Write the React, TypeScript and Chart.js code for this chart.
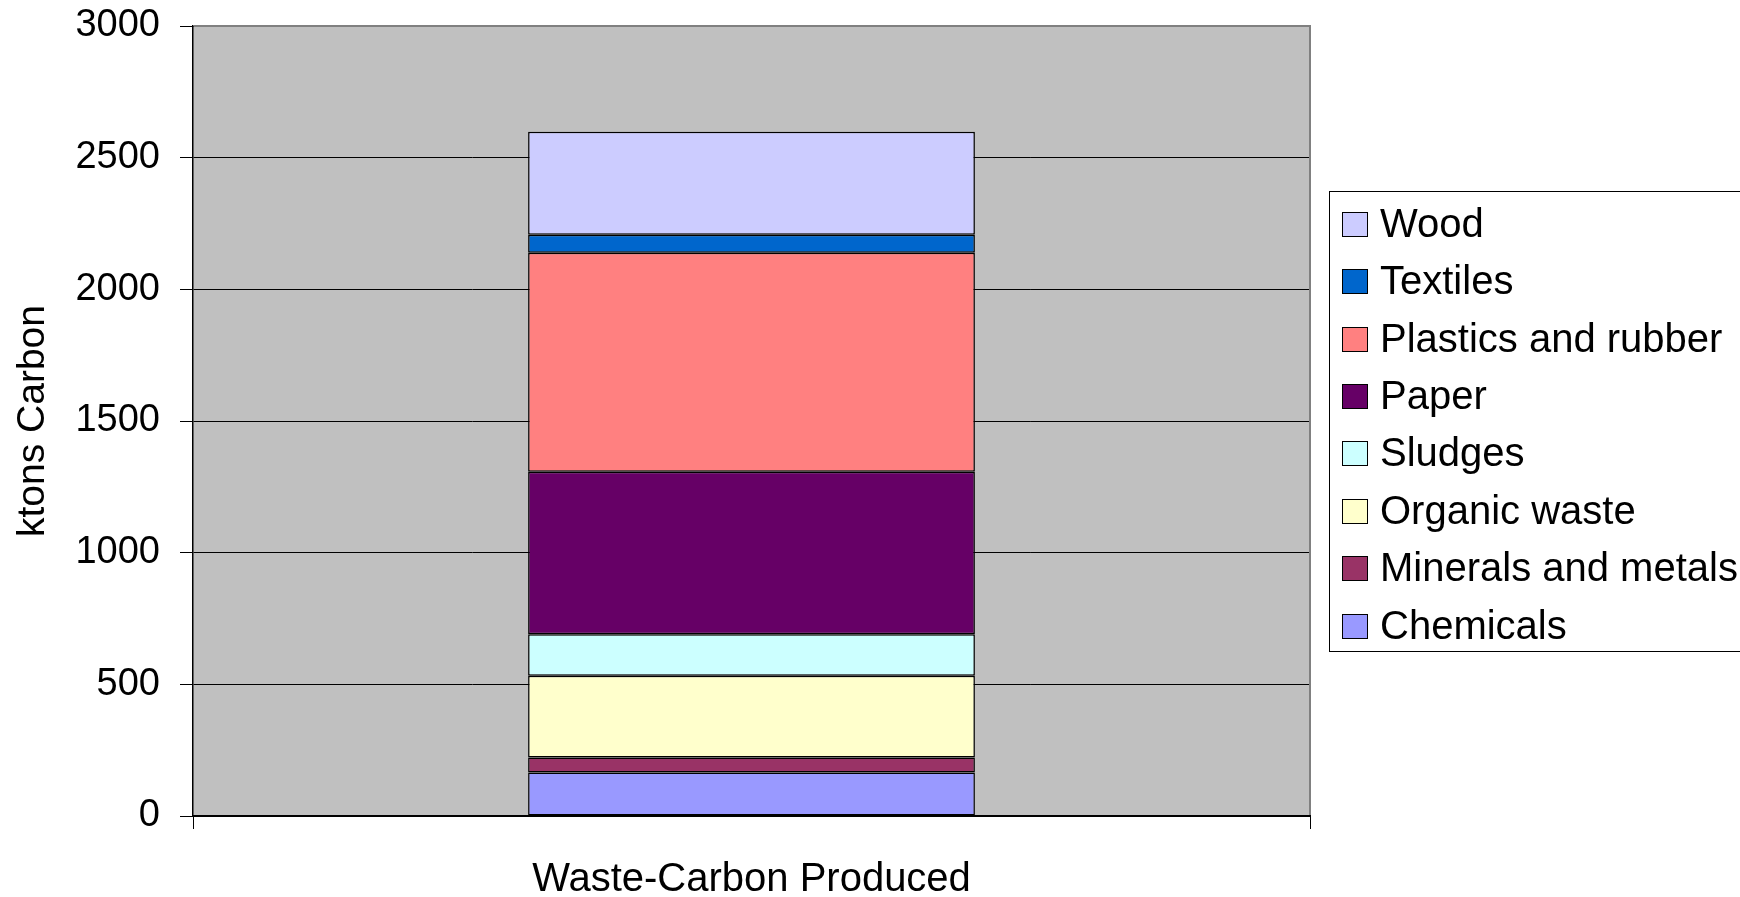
import React, { useEffect, useRef } from "react";
import { Chart, registerables } from "chart.js";

Chart.register(...registerables);

const categories = ["Waste-Carbon Produced"];
const seriesNames = [
  "Chemicals",
  "Minerals and metals",
  "Organic waste",
  "Sludges",
  "Paper",
  "Plastics and rubber",
  "Textiles",
  "Wood",
];
const chemicals = [165];
const mineralsMetals = [57];
const organicWaste = [311];
const sludges = [157];
const paper = [617];
const plasticsRubber = [832];
const textiles = [68];
const wood = [391];
const seriesColors = [
  "#9999FF",
  "#993366",
  "#FFFFCC",
  "#CCFFFF",
  "#660066",
  "#FF8080",
  "#0066CC",
  "#CCCCFF",
];
const yTicks = [0, 500, 1000, 1500, 2000, 2500, 3000];
const yTitle = "ktons Carbon";

const FONT = "'Liberation Sans', Arial, Helvetica, sans-serif";

const plotBgPlugin = {
  id: "plotBg",
  beforeDraw(chart: any) {
    const { ctx, chartArea } = chart;
    ctx.save();
    ctx.fillStyle = "#C0C0C0";
    ctx.fillRect(chartArea.left, chartArea.top, chartArea.right - chartArea.left, chartArea.bottom - chartArea.top);
    ctx.restore();
  },
  beforeDatasetsDraw(chart: any) {
    const { ctx, chartArea } = chart;
    ctx.save();
    ctx.strokeStyle = "#808080";
    ctx.lineWidth = 2;
    ctx.beginPath();
    ctx.moveTo(chartArea.left + 1, chartArea.top);
    ctx.lineTo(chartArea.right, chartArea.top);
    ctx.lineTo(chartArea.right, chartArea.bottom - 1);
    ctx.stroke();
    ctx.restore();
  },
};

const boxLegendPlugin = {
  id: "boxLegend",
  afterDraw(chart: any) {
    const ctx = chart.ctx;
    ctx.save();
    ctx.fillStyle = "#FFFFFF";
    ctx.fillRect(1329.5, 191.5, 430, 460);
    ctx.strokeStyle = "#000000";
    ctx.lineWidth = 1;
    ctx.strokeRect(1329.5, 191.5, 430, 460);
    const ds = chart.data.datasets.slice().reverse();
    ctx.font = `40px ${FONT}`;
    ctx.textBaseline = "middle";
    ctx.textAlign = "left";
    ds.forEach((d: any, i: number) => {
      const cy = 223.7 + i * 57.4;
      ctx.fillStyle = d.backgroundColor;
      ctx.fillRect(1342.5, Math.round(cy - 12) + 0.5, 25, 24);
      ctx.strokeStyle = "#000";
      ctx.lineWidth = 1;
      ctx.strokeRect(1342.5, Math.round(cy - 12) + 0.5, 25, 24);
      ctx.fillStyle = "#000";
      ctx.fillText(d.label, 1380, cy + 2);
    });
    ctx.restore();
  },
};

export default function App() {
  const ref = useRef<HTMLCanvasElement>(null);
  useEffect(() => {
    document.body.style.margin = "0";
    const values = [chemicals, mineralsMetals, organicWaste, sludges, paper, plasticsRubber, textiles, wood];
    const chart = new Chart(ref.current as HTMLCanvasElement, {
      type: "bar",
      data: {
        labels: categories,
        datasets: seriesNames.map((name, i) => ({
          label: name,
          data: values[i],
          backgroundColor: seriesColors[i],
          borderColor: "#000000",
          borderWidth: 1.5,
          borderSkipped: false,
          categoryPercentage: 1,
          barPercentage: 0.4,
        })),
      },
      options: {
        responsive: false,
        animation: false,
        devicePixelRatio: 1,
        layout: { padding: { left: 0, top: 26, right: 430, bottom: 0 } },
        plugins: { legend: { display: false }, tooltip: { enabled: false } },
        scales: {
          x: {
            stacked: true,
            grid: { display: true, drawOnChartArea: false, drawTicks: true, tickLength: 13, color: "#000", offset: true },
            border: { display: true, color: "#000", width: 2 },
            ticks: { color: "#000", font: { family: FONT, size: 40 }, padding: 27 },
            afterFit: (s: any) => { s.height = 81; s.paddingLeft = 0; s.paddingRight = 0; },
          },
          y: {
            stacked: true,
            min: 0,
            max: 3000,
            afterBuildTicks: (s: any) => { s.ticks = yTicks.map((v) => ({ value: v })); },
            grid: { color: "#000", lineWidth: 1, tickLength: 13 },
            border: { display: true, color: "#000", width: 1.5 },
            ticks: {
              color: "#000",
              font: { family: FONT, size: 38 },
              padding: 20,
              callback: (v: any) => String(v),
            },
            title: {
              display: true,
              text: yTitle,
              color: "#000",
              font: { family: FONT, size: 39 },
              padding: { top: 10, bottom: 0 },
            },
            afterFit: (s: any) => { s.width = 193; s.paddingTop = 0; s.paddingBottom = 0; },
          },
        },
      },
      plugins: [plotBgPlugin, boxLegendPlugin],
    });
    return () => chart.destroy();
  }, []);
  return (
    <div style={{ position: "fixed", left: 0, top: 0 }}>
      <canvas ref={ref} width={1740} height={897} style={{ width: 1740, height: 897 }} />
    </div>
  );
}
